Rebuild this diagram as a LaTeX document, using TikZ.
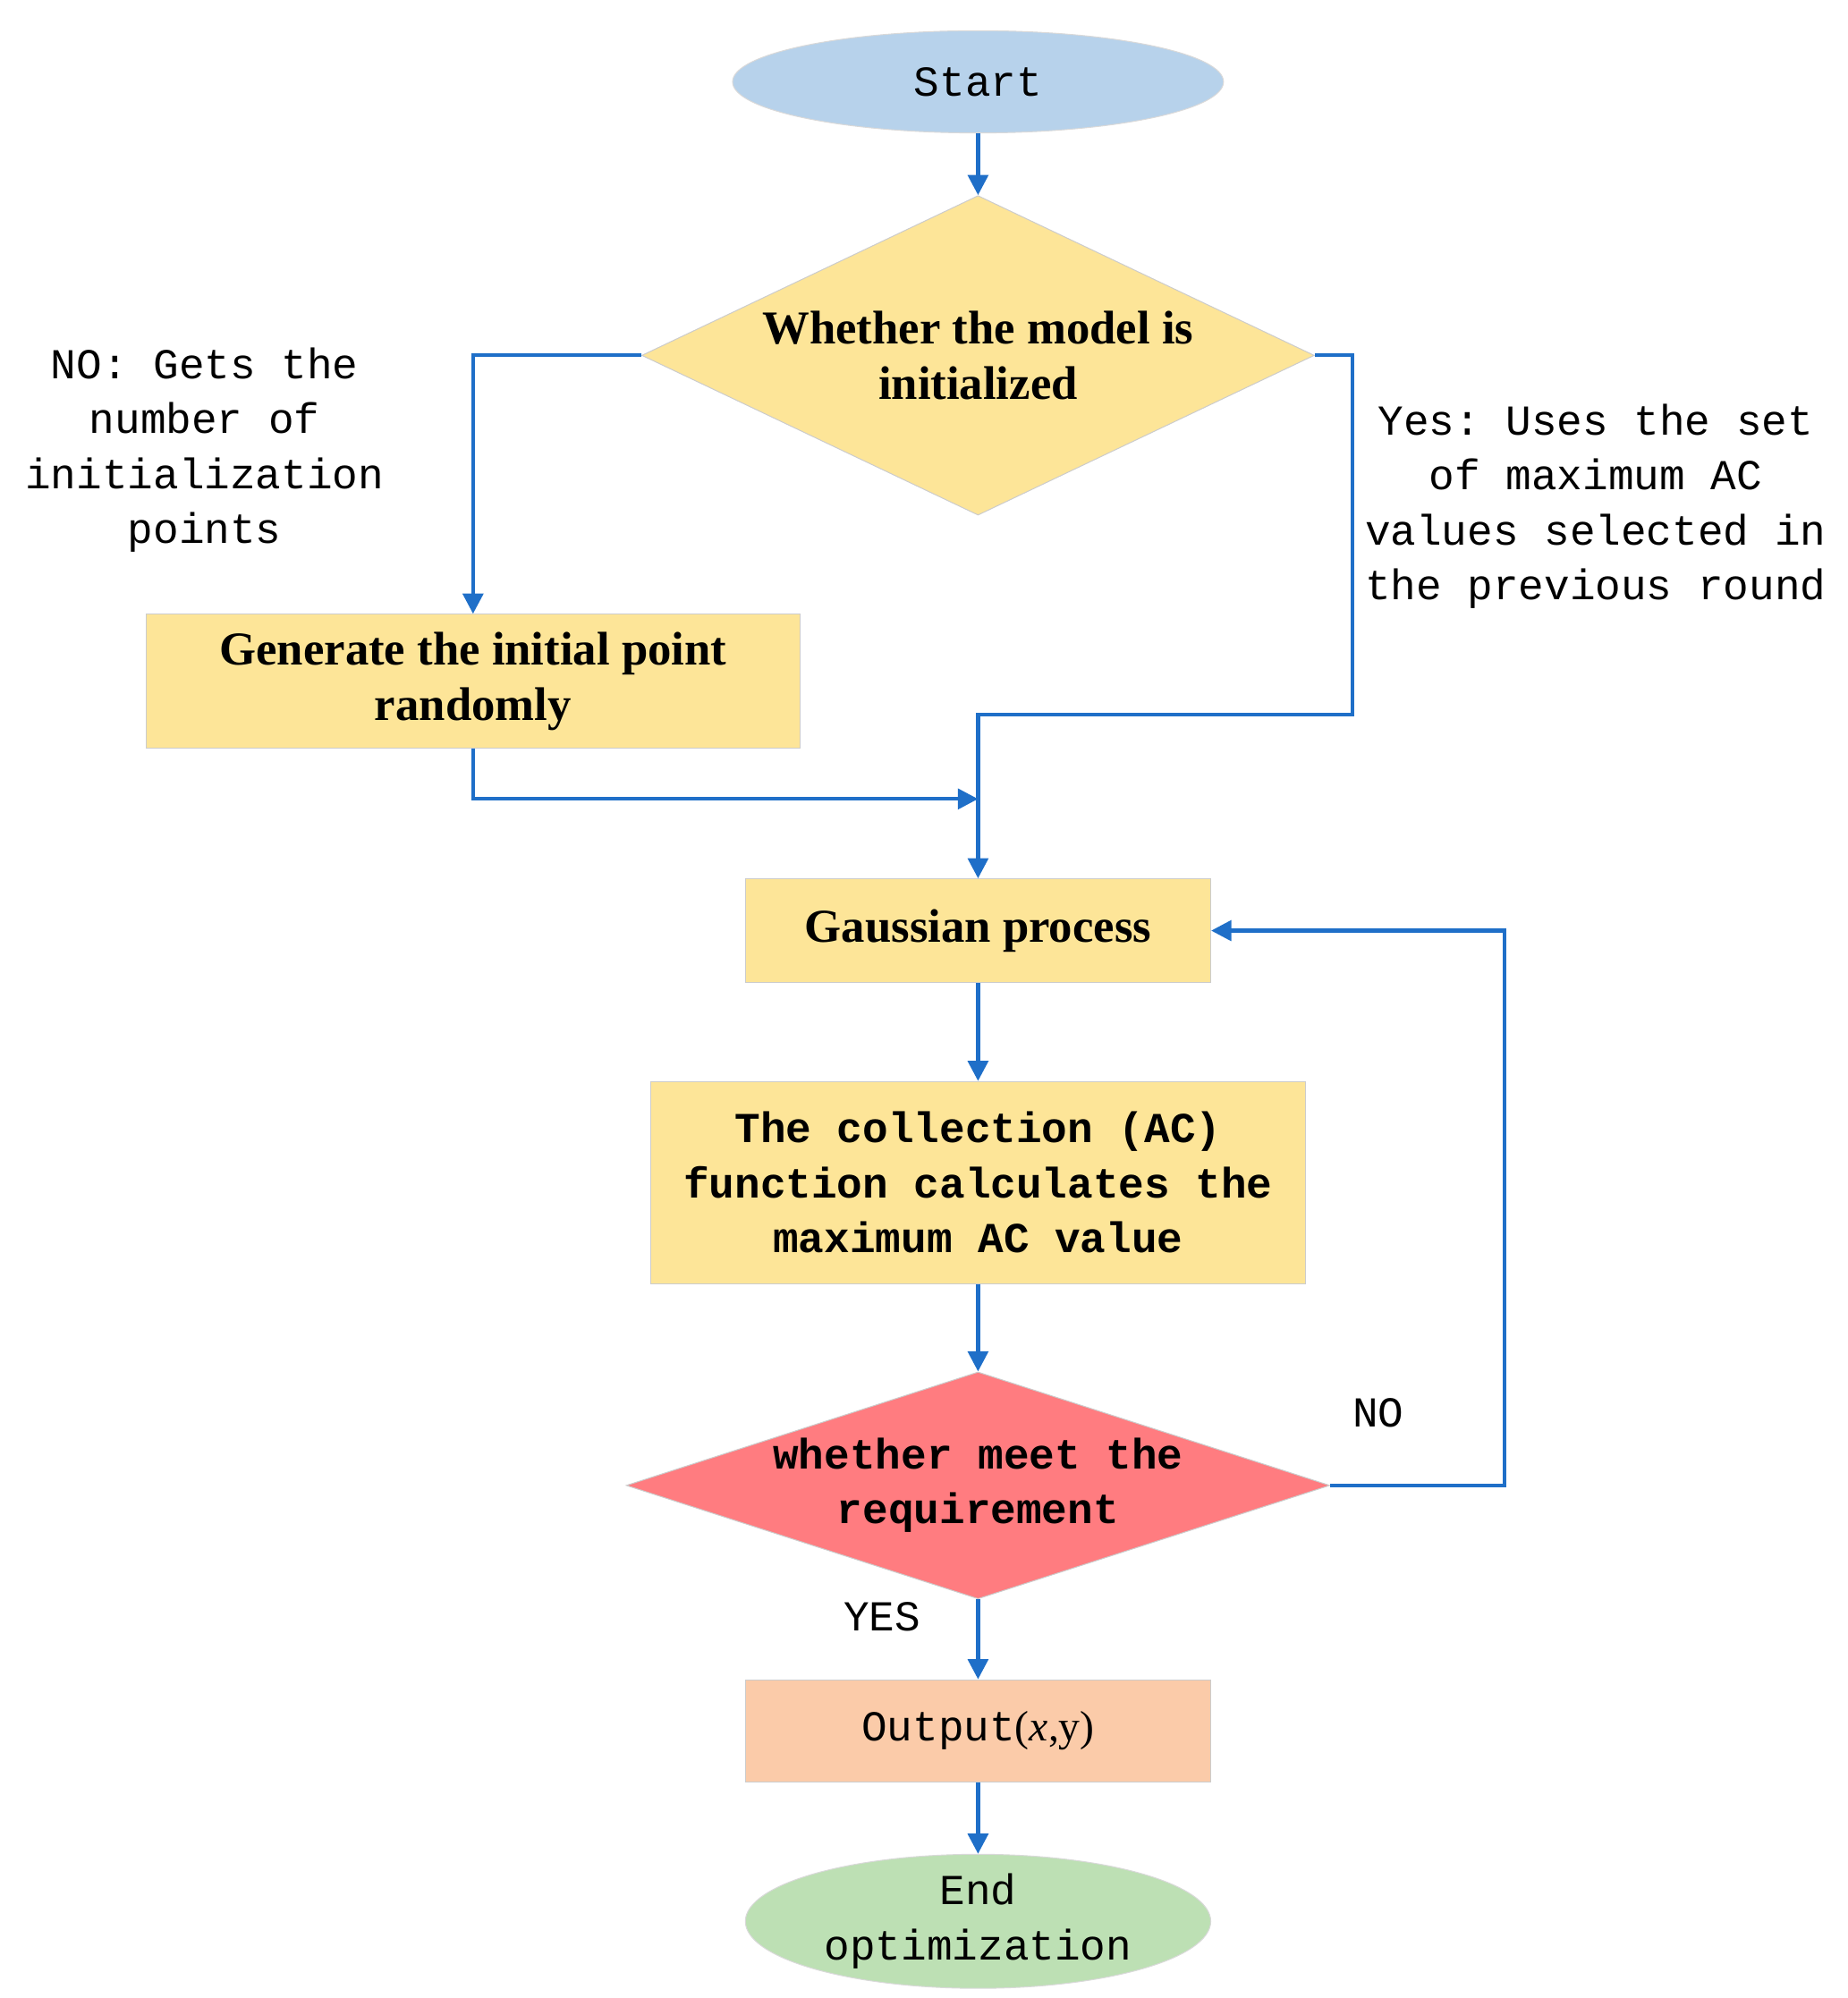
\documentclass[tikz,border=0pt]{standalone}
\usepackage{fontspec}
\setmainfont{Liberation Serif}
\setmonofont{Liberation Mono}
\usetikzlibrary{shapes.geometric,arrows.meta}
\definecolor{lblue}{HTML}{B7D2EB}
\definecolor{ylw}{HTML}{FDE598}
\definecolor{rd}{HTML}{FF7C80}
\definecolor{pch}{HTML}{FBCBA9}
\definecolor{grn}{HTML}{BDE0B4}
\definecolor{arr}{HTML}{1F6FC8}
\begin{document}
\begin{tikzpicture}[x=0.02cm,y=-0.02cm,
  mono/.style={font=\fontsize{19}{24.5}\selectfont\ttfamily},
  bold/.style={font=\fontsize{21}{24.5}\selectfont\bfseries},
  box/.style={draw=black!20,fill=ylw,inner sep=0pt,align=center},
  con/.style={draw=arr,line width=1.7pt},
  ar/.style={con,-{Triangle[length=9pt,width=9pt]}}]
\useasboundingbox (0,0) rectangle (1445,1563);
\node[ellipse,fill=lblue,draw=black!15,minimum width=384*0.02cm,minimum height=80*0.02cm,inner sep=0pt,mono] (start) at (765,64) {Start};
\node[diamond,box,bold,aspect=2.1,minimum width=526*0.02cm,minimum height=250*0.02cm] (d1) at (765,278) {Whether the model is\\initialized};
\node[box,bold,minimum width=511*0.02cm,minimum height=105*0.02cm] (gen) at (370,533) {Generate the initial point\\randomly};
\node[box,bold,minimum width=364*0.02cm,minimum height=81*0.02cm] (gp) at (765,728) {Gaussian process};
\node[box,mono,minimum width=512*0.02cm,minimum height=158*0.02cm,font=\fontsize{19}{24.5}\selectfont\ttfamily\bfseries] (ac) at (765,925) {The collection (AC)\\function calculates the\\maximum AC value};
\node[diamond,box,fill=rd,aspect=3.1,minimum width=489*0.02cm,minimum height=157*0.02cm,font=\fontsize{19}{24.5}\selectfont\ttfamily\bfseries] (d2) at (765,1162) {whether meet the\\requirement};
\node[box,fill=pch,minimum width=364*0.02cm,minimum height=80*0.02cm,mono] (out) at (765,1354) {Output\textrm{(\textit{x},y)}};
\node[ellipse,fill=grn,draw=black!15,minimum width=364*0.02cm,minimum height=80*0.02cm,inner sep=0pt,mono,align=center] (end) at (765,1503) {End\\optimization};
\coordinate (j1) at (765,625);
\node[mono,align=center] (lno) at (160,352) {NO: Gets the\\number of\\initialization\\points};
\node[mono,align=center] (lyes) at (1248,396) {Yes: Uses the set\\of maximum AC\\values selected in\\the previous round};
\node[mono] (no2) at (1078,1105) {NO};
\node[mono] (yes2) at (690,1265) {YES};
\draw[ar] (start) -- (d1);
\draw[ar] (d1.west) -- (370,278) -- (gen.north);
\draw[ar] (d1.east) -- (1058,278) -- (1058,559) -- (765,559) -- (gp.north);
\draw[ar] (gen.south) -- (370,625) -- (j1);
\draw[ar] (gp) -- (ac);
\draw[ar] (ac) -- (d2);
\draw[ar] (d2) -- (out);
\draw[ar] (out) -- (end);
\draw[ar] (d2.east) -- (1177,1162) -- (1177,728) -- (gp.east);
\end{tikzpicture}
\end{document}
